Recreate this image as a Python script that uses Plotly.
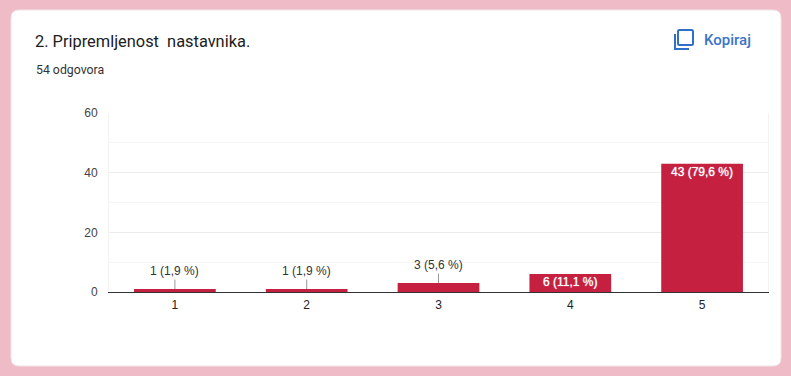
import plotly.graph_objects as go

categories = [1, 2, 3, 4, 5]
values = [1, 1, 3, 6, 43]
labels = ["1 (1,9 %)", "1 (1,9 %)", "3 (5,6 %)", "6 (11,1 %)", "43 (79,6 %)"]
y_ticks = [0, 20, 40, 60]
title = "2. Pripremljenost  nastavnika."
subtitle = "54 odgovora"
copy_label = "Kopiraj"

W, H = 791, 376
L, R, T, B = 109, 768, 113, 292


def px(x):
    return (x - L) / (R - L)


def py(y):
    return (B - y) / (B - T)


def rrect(x0, y0, x1, y1, r):
    a0, a1, b0, b1 = px(x0), px(x1), py(y0), py(y1)
    rx, ry = r / (R - L), r / (B - T)
    return (f"M{a0+rx},{b0} L{a1-rx},{b0} Q{a1},{b0} {a1},{b0-ry} L{a1},{b1+ry} Q{a1},{b1} {a1-rx},{b1} "
            f"L{a0+rx},{b1} Q{a0},{b1} {a0},{b1+ry} L{a0},{b0-ry} Q{a0},{b0} {a0+rx},{b0} Z")


inside = [v >= 6 for v in values]
fig = go.Figure(go.Bar(
    x=categories, y=values, width=0.62, marker=dict(color="#c5203f", line_width=0),
    hoverinfo="skip",
))

annotations = []
for c, v, t, i in zip(categories, values, labels, inside):
    if i:
        annotations.append(dict(x=c, y=v, xref="x", yref="y", text=t, showarrow=False,
                                yanchor="middle", yshift=-8,
                                font=dict(family="Liberation Sans, Arial", size=12, color="#ffffff",
                                          shadow="0 0 1px #ffffff")))
    else:
        annotations.append(dict(x=c, y=v, xref="x", yref="y", text=t, showarrow=True, arrowhead=0,
                                arrowwidth=1, arrowcolor="#999999", ax=0, ay=-18, standoff=0,
                                font=dict(family="Liberation Sans, Arial", size=12, color="#333333")))
for x, y, text, size, color, fam in [
    (33, 41, title, 16.4, "#212121", "Roboto"),
    (34, 70, subtitle, 12.3, "#333333", "Roboto"),
]:
    annotations.append(dict(x=px(x), y=py(y), xref="paper", yref="paper", text=text, showarrow=False,
                            xanchor="left", yanchor="middle", font=dict(family=fam, size=size, color=color)))
annotations.append(dict(x=px(702), y=py(40), xref="paper", yref="paper", text=copy_label, showarrow=False,
                        xanchor="left", yanchor="middle",
                        font=dict(family="Roboto", size=15, color="#3a74c9", weight=500)))

shapes = [
    dict(type="path", path=rrect(11, 10, 781, 366, 8), xref="paper", yref="paper",
         fillcolor="#ffffff", line=dict(color="#f3e4e8", width=1), layer="below"),
    dict(type="path", path=rrect(678, 30, 693, 45, 1.5), xref="paper", yref="paper",
         fillcolor="rgba(0,0,0,0)", line=dict(color="#2f6fc9", width=2), layer="above"),
    dict(type="path", path=f"M{px(675)},{py(34)} L{px(675)},{py(49)} L{px(689)},{py(49)}",
         xref="paper", yref="paper", line=dict(color="#2f6fc9", width=2), layer="above"),
]

fig.update_layout(
    width=W, height=H, autosize=False,
    margin=dict(l=L, r=W - R, t=T, b=H - B, pad=0),
    paper_bgcolor="#eebbc6", plot_bgcolor="rgba(0,0,0,0)",
    showlegend=False, annotations=annotations, shapes=shapes,
    font=dict(family="Liberation Sans, Arial", size=12, color="#333333"),
    xaxis=dict(range=[0.5, 5.5], tickvals=categories, ticks="outside", ticklen=2, tickcolor="rgba(0,0,0,0)",
               showgrid=False, zeroline=False, showline=True, linecolor="#333333", linewidth=1,
               tickfont=dict(size=12, color="#222222"), fixedrange=True),
    yaxis=dict(range=[0, 60], tickvals=y_ticks, ticks="outside", ticklen=8, tickcolor="rgba(0,0,0,0)",
               showgrid=True, gridcolor="#ececec", gridwidth=1, zeroline=False,
               showline=True, mirror=True, linecolor="#f2f2f2", linewidth=1,
               minor=dict(dtick=10, showgrid=True, gridcolor="#f6f6f6", gridwidth=1, ticks=""),
               tickfont=dict(size=12, color="#444444"), fixedrange=True),
)

fig.write_html("out.html", config={"displayModeBar": False},
               post_script="document.body.style.margin='0';document.documentElement.style.overflow='hidden';document.documentElement.style.background='#eebbc6';")
